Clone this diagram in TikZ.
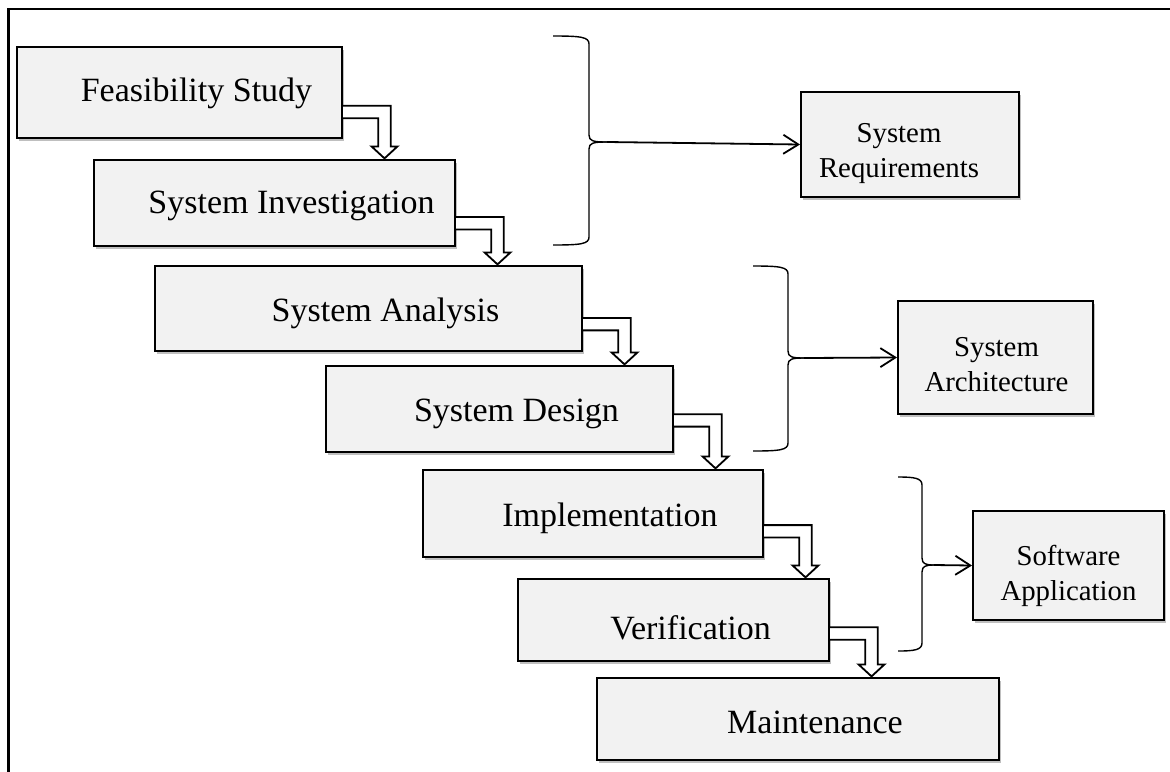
\documentclass[tikz,border=0pt]{standalone}
\usepackage{fontspec}
\setmainfont{Liberation Serif}
\usetikzlibrary{calc,shadows,arrows.meta}
\definecolor{boxfill}{RGB}{242,242,242}
\tikzset{
  stage/.style={draw=black, line width=1pt, fill=boxfill, rectangle, inner sep=0pt,
    font=\fontsize{17}{20}\selectfont, text depth=0pt,
    drop shadow={shadow xshift=1.2pt, shadow yshift=-1.5pt, fill=black, opacity=0.25}},
  result/.style={draw=black, line width=1pt, fill=boxfill, rectangle, inner sep=0pt,
    drop shadow={shadow xshift=1.2pt, shadow yshift=-1.5pt, fill=black, opacity=0.25}},
  restext/.style={align=center, inner sep=0pt, font=\fontsize{14.4}{17.5}\selectfont},
  bracket/.style={draw=black, line width=0.7pt},
  feed/.style={draw=black, line width=0.9pt, -{Straight Barb[length=7.5pt,width=9.5pt]}},
  steparrow/.style={draw=black, line width=0.9pt, fill=white, line join=miter},
  frame/.style={draw=black, line width=1.2pt}
}
% hollow bent arrow from the right side of #1 down to the top of #2
\newcommand\stagearrow[3]{%
  \path[steparrow] let \p1=($(#1.north east)!#3!(#1.south east)$), \p2=(#2.north) in
    (\x1,\y1+3.1pt) -- (\x1+23.85pt,\y1+3.1pt) -- (\x1+23.85pt,\y2+6.3pt)
    -- (\x1+27.25pt,\y2+6.3pt) -- (\x1+20.75pt,\y2+0.3pt) -- (\x1+14.25pt,\y2+6.3pt)
    -- (\x1+17.65pt,\y2+6.3pt) -- (\x1+17.65pt,\y1-3.1pt) -- (\x1,\y1-3.1pt);}
% right curly bracket: x, top, mid, bottom, hook end x, tip x
\newcommand\rbracket[6]{%
  \draw[bracket] (#5,#2) .. controls ({#1-8},#2) and (#1,{#2+1}) .. (#1,{#2+8})
    -- (#1,{#3-7}) .. controls (#1,{#3-1}) and ({#1+4},#3) .. (#6,#3);
  \draw[bracket] (#6,#3) .. controls ({#1+4},#3) and (#1,{#3+1}) .. (#1,{#3+7})
    -- (#1,{#4-8}) .. controls (#1,{#4-1}) and ({#1-8},#4) .. (#5,#4);}
\begin{document}
\begin{tikzpicture}[x=0.5pt,y=-0.5pt]
\useasboundingbox (0,0) rectangle (1170,771);
\fill[white] (0,0) rectangle (1170,771);
\draw[frame] (8.5,780) -- (8.5,9) -- (1180,9);

% stages (text height sets the baseline below the box centre)
\node[stage, minimum width=162.5pt, minimum height=45.5pt, text height=9.2pt] (fs) at (179.5,92.5) {\hspace*{17pt}Feasibility Study};
\node[stage, minimum width=180.5pt, minimum height=43pt, text height=10.7pt] (si) at (274.5,203) {\hspace*{17pt}System Investigation};
\node[stage, minimum width=213.5pt, minimum height=42.5pt, text height=12.5pt] (sa) at (368.5,308.5) {\hspace*{17pt}System Analysis};
\node[stage, minimum width=173.5pt, minimum height=43pt, text height=12pt] (sd) at (499.5,409) {\hspace*{17pt}System Design};
\node[stage, minimum width=170pt, minimum height=43.5pt, text height=12.5pt] (im) at (593,513.5) {\hspace*{17pt}Implementation};
\node[stage, minimum width=155.5pt, minimum height=41pt, text height=19pt] (ve) at (673.5,620) {\hspace*{17pt}Verification};
\node[stage, minimum width=201pt, minimum height=41pt, text height=14.3pt] (ma) at (798,719) {\hspace*{17pt}Maintenance};

% results
\node[result, minimum width=109pt, minimum height=52.5pt] (req) at (910,144.5) {};
\node[restext] (reqt) at ($(req.center)+(-11,9.5)$) {System\\Requirements};
\node[result, minimum width=97.5pt, minimum height=56.5pt] (arch) at (995.5,357.5) {};
\node[restext] (archt) at ($(arch.center)+(1,6.8)$) {System\\Architecture};
\node[result, minimum width=95.5pt, minimum height=54.5pt] (sw) at (1068.5,565.5) {};
\node[restext] (swt) at ($(sw.center)+(0,10)$) {Software\\Application};

% stage arrows
\stagearrow{fs}{si}{0.71}
\stagearrow{si}{sa}{0.73}
\stagearrow{sa}{sd}{0.68}
\stagearrow{sd}{im}{0.63}
\stagearrow{im}{ve}{0.70}
\stagearrow{ve}{ma}{0.66}

% brackets and their arrows
\rbracket{589}{36}{142}{245}{553}{607}
\coordinate (b1) at (607,142);
\draw[feed] (b1) -- (req.west);
\rbracket{788}{266}{358}{451}{753}{804}
\coordinate (b2) at (804,358);
\draw[feed] (b2) -- (arch.west);
\rbracket{922}{477}{565}{651}{898}{934}
\coordinate (b3) at (934,565);
\draw[feed] (b3) -- (sw.west);
\end{tikzpicture}
\end{document}
